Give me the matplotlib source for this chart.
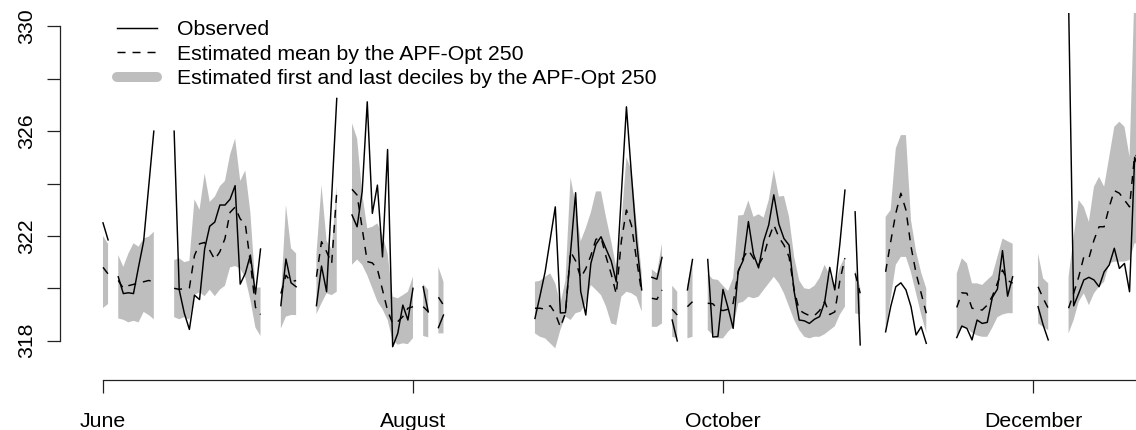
import numpy as np
import matplotlib
matplotlib.use("Agg")
import matplotlib.pyplot as plt
from matplotlib.lines import Line2D

NA = np.nan

# Daily series starting on 1 June; NA marks days without data.
obs = (
    [322.5, 321.85] + [NA] +
    [320.44, 319.8, 319.83, 319.8, 320.82, 321.8, 323.9, 326.0] + [NA] * 3 +
    [326.0, 319.94, 319.05, 318.43, 319.74, 319.57, 321.5, 322.37, 322.53,
     323.18, 323.18, 323.4, 323.92, 320.16, 320.57, 321.27, 319.78, 321.5] + [NA] * 3 +
    [319.34, 321.12, 320.21, 320.06] + [NA] * 3 +
    [319.34, 320.85, 319.87, 323.5, 327.25] + [NA] * 2 +
    [322.8, 322.35, 323.69, 327.12, 322.86, 323.94, 321.2, 325.3, 317.77,
     318.28, 319.36, 318.79, 320.0] + [NA] +
    [320.06, 319.1] + [NA] +
    [318.5, 318.98] + [NA] * 17 +
    [318.85, 319.72, 320.63, 321.88, 323.11, 319.06, 319.07, 321.37, 323.65,
     319.88, 318.98, 320.95, 321.68, 321.97, 321.5, 321.05, 320.25, 323.6,
     326.93, 324.3, 321.8, 319.94] + [NA] +
    [320.42, 320.35, 321.18] + [NA] +
    [318.79, 317.99] + [NA] +
    [319.94, 321.1] + [NA] * 2 +
    [321.1, 318.14, 318.16, 319.96, 319.25, 318.47, 320.66, 321.08, 322.55,
     321.3, 320.78, 321.8, 322.42, 323.57, 322.45, 321.9, 321.65, 319.88,
     318.79, 318.76, 318.66, 318.82, 318.92, 319.47, 320.8, 319.94, 321.7,
     323.75] + [NA] +
    [322.92, 317.84] + [NA] * 4 +
    [318.34, 319.3, 320.06, 320.21, 319.94, 319.3, 318.22, 318.53, 317.9] + [NA] * 5 +
    [318.12, 318.56, 318.47, 318.03, 318.79, 318.66, 318.7, 319.65, 319.97,
     321.44, 319.7, 320.44] + [NA] * 4 +
    [319.3, 318.6, 318.03] + [NA] * 3 +
    [331.0, 319.33, 319.81, 320.32, 320.42, 320.32, 320.06, 320.63, 320.89,
     321.53, 320.76, 320.95, 319.87, 325.0, 324.5]
)

est_mean = (
    [320.8, 320.55] + [NA] +
    [320.3, 320.0, 320.1, 320.15, 320.2, 320.25, 320.3, 320.25] + [NA] * 3 +
    [320.0, 319.96, 319.99, 320.02, 321.25, 321.7, 321.75, 321.45, 321.1,
     321.4, 321.9, 322.9, 323.1, 322.65, 322.45, 321.0, 319.28, 319.0] + [NA] * 3 +
    [319.8, 320.5, 320.25, 320.3] + [NA] * 3 +
    [320.44, 321.78, 321.4, 320.95, 323.69] + [NA] * 2 +
    [323.78, 323.56, 322.3, 321.02, 320.97, 320.73, 319.94, 319.15, 318.66,
     318.73, 318.92, 319.24, 319.3] + [NA] +
    [319.3, 319.11] + [NA] +
    [319.66, 319.36] + [NA] * 17 +
    [319.24, 319.24, 319.2, 319.34, 319.04, 318.52, 319.05, 321.4, 321.05,
     320.4, 320.75, 321.25, 321.87, 321.94, 321.2, 320.55, 319.78, 321.8,
     322.99, 322.4, 321.08, 319.84] + [NA] +
    [319.62, 319.58, 319.94] + [NA] +
    [319.2, 318.98] + [NA] +
    [319.3, 319.49] + [NA] * 2 +
    [319.43, 319.41, 319.2, 319.15, 319.2, 319.43, 320.63, 321.18, 321.46,
     321.15, 320.89, 321.23, 321.91, 322.42, 321.95, 321.65, 321.2, 319.94,
     319.17, 319.05, 318.96, 318.96, 319.15, 319.5, 319.0, 319.1, 320.3,
     321.15] + [NA] +
    [320.57, 319.81] + [NA] * 4 +
    [320.63, 321.78, 322.86, 323.63, 322.99, 321.59, 320.57, 319.81, 319.05] + [NA] * 5 +
    [319.27, 319.83, 319.81, 319.24, 319.2, 319.17, 319.36, 319.7, 320.2,
     320.7, 320.3, 320.2] + [NA] * 4 +
    [320.06, 319.62, 319.24] + [NA] * 3 +
    [319.24, 319.81, 320.44, 321.2, 321.15, 321.84, 322.35, 322.35, 323.11,
     323.73, 323.63, 323.37, 323.11, 325.09, 325.0]
)

decile_low = (
    [319.25, 319.4] + [NA] +
    [318.85, 318.8, 318.7, 318.76, 318.7, 319.1, 318.98, 318.82] + [NA] * 3 +
    [318.9, 318.82, 318.9, 318.8, 319.75, 319.85, 319.7, 319.95, 319.7,
     319.95, 320.1, 320.8, 320.85, 320.75, 320.4, 319.55, 318.5, 318.18] + [NA] * 3 +
    [318.47, 318.92, 318.98, 318.98] + [NA] * 3 +
    [319.02, 319.43, 319.81, 319.74, 319.87] + [NA] * 2 +
    [320.9, 321.1, 320.9, 320.5, 320.0, 319.5, 319.2, 318.8, 318.0,
     317.85, 317.9, 317.87, 318.1] + [NA] +
    [318.18, 318.13] + [NA] +
    [318.28, 318.28] + [NA] * 17 +
    [318.28, 318.15, 318.09, 317.9, 317.71, 318.41, 318.92, 318.79, 319.05,
     319.11, 319.43, 320.13, 319.94, 319.74, 319.3, 318.66, 318.6, 319.68,
     319.87, 319.81, 319.68, 319.11] + [NA] +
    [318.53, 318.53, 318.66] + [NA] +
    [318.15, 318.09] + [NA] +
    [318.09, 318.15] + [NA] * 2 +
    [318.41, 318.22, 318.09, 318.09, 318.34, 318.53, 319.43, 319.49, 319.68,
     319.62, 319.68, 319.94, 320.19, 320.44, 320.19, 319.81, 319.3, 318.79,
     318.41, 318.15, 318.09, 318.15, 318.15, 318.25, 318.4, 318.55, 319.0,
     319.3] + [NA] +
    [319.05, 319.0] + [NA] * 4 +
    [318.35, 319.6, 320.9, 321.2, 321.2, 320.6, 319.8, 319.0, 318.3] + [NA] * 5 +
    [318.2, 318.5, 318.5, 318.3, 318.2, 318.15, 318.15, 318.5, 318.9,
     319.0, 319.05, 319.05] + [NA] * 4 +
    [318.66, 318.53, 318.4] + [NA] * 3 +
    [318.28, 318.79, 319.49, 319.81, 319.36, 319.81, 320.06, 320.25, 320.95,
     321.02, 321.02, 321.02, 321.08, 321.72, 321.7]
)

decile_high = (
    [322.0, 321.7] + [NA] +
    [321.27, 320.82, 321.33, 321.72, 321.59, 321.91, 321.97, 322.16] + [NA] * 3 +
    [321.08, 321.15, 321.0, 321.05, 323.4, 323.0, 324.39, 323.3, 323.5,
     323.9, 324.1, 325.1, 325.72, 324.1, 324.5, 322.9, 320.03, 320.03] + [NA] * 3 +
    [319.6, 323.18, 321.53, 321.33] + [NA] * 3 +
    [321.3, 323.94, 321.8, 321.5, 323.9] + [NA] * 2 +
    [326.3, 325.72, 323.63, 322.29, 322.35, 322.48, 322.03, 321.33, 319.68,
     319.62, 319.74, 319.87, 320.44] + [NA] +
    [320.16, 319.94] + [NA] +
    [320.82, 320.25] + [NA] * 17 +
    [320.25, 320.29, 320.44, 320.57, 320.19, 319.4, 320.3, 324.24, 323.2,
     321.8, 322.3, 322.9, 323.7, 323.7, 322.7, 321.8, 320.8, 322.5,
     325.0, 324.5, 322.5, 320.6] + [NA] +
    [320.72, 320.57, 321.72] + [NA] +
    [320.1, 319.87] + [NA] +
    [320.13, 321.08] + [NA] * 2 +
    [320.55, 320.35, 320.32, 320.1, 319.9, 320.4, 322.78, 322.8, 323.35,
     322.73, 322.83, 322.7, 323.37, 324.52, 323.5, 323.53, 322.73, 321.2,
     320.3, 320.0, 319.97, 320.1, 320.4, 320.9, 320.5, 320.1, 320.8,
     321.2] + [NA] +
    [320.7, 320.05] + [NA] * 4 +
    [322.73, 322.99, 325.34, 325.85, 325.85, 322.6, 321.4, 320.6, 320.0] + [NA] * 5 +
    [320.57, 321.15, 320.95, 320.19, 320.19, 320.13, 320.32, 320.5, 321.2,
     321.9, 321.8, 321.7] + [NA] * 4 +
    [321.33, 320.38, 320.19] + [NA] * 3 +
    [320.44, 321.97, 323.37, 323.11, 322.54, 323.88, 324.26, 323.88, 325.02,
     326.17, 326.36, 326.17, 325.02, 331.5, 331.0]
)

# Day offsets (from 1 June) of the first day of each labelled month
month_ticks = [0, 61, 122, 183]
month_labels = ["June", "August", "October", "December"]
y_ticks = [318, 320, 322, 324, 326, 328, 330]
y_labels = ["318", "", "322", "", "326", "", "330"]

legend_labels = [
    "Observed",
    "Estimated mean by the APF-Opt 250",
    "Estimated first and last deciles by the APF-Opt 250",
]

BAND = "#BEBEBE"
FS = 15.3

plt.rcParams["font.family"] = ["Liberation Sans", "DejaVu Sans"]

W, H = 1136, 430
fig = plt.figure(figsize=(W / 100, H / 100), dpi=100)
ax = fig.add_axes([60 / W, 1 - 380 / H, (W - 60) / W, (380 - 13.3) / H])

days = np.arange(len(obs))
ax.fill_between(days, decile_low, decile_high, color=BAND, lw=0)
ax.plot(days, obs, color="black", lw=1.05)
ax.plot(days, est_mean, color="black", lw=1.05, ls=(0, (5.5, 4.8)))

ax.set_xlim(-8.46, 203.27)
ax.set_ylim(316.5, 330.5)

for side in ("top", "right"):
    ax.spines[side].set_visible(False)
ax.spines["left"].set_bounds(318, 330)
ax.spines["bottom"].set_bounds(0, 203.27)
for side in ("left", "bottom"):
    ax.spines[side].set_linewidth(0.9)
    ax.spines[side].set_color("#222222")

ax.set_xticks(month_ticks)
ax.set_xticklabels(month_labels, fontsize=FS)
ax.set_yticks(y_ticks)
ax.set_yticklabels(y_labels, fontsize=FS, rotation=90, va="center")
ax.tick_params(axis="both", length=9.4, width=0.9, color="#222222")
ax.tick_params(axis="x", pad=13.3)
ax.tick_params(axis="y", pad=7.5)

handles = [
    Line2D([], [], color="black", lw=1.05),
    Line2D([], [], color="black", lw=1.05, ls=(0, (5.5, 4.8))),
    Line2D([], [], color=BAND, lw=7.2, solid_capstyle="round"),
]
ax.legend(handles, legend_labels, loc="upper left",
          bbox_to_anchor=(117 / W, 1 - 20 / H), bbox_transform=fig.transFigure,
          frameon=False, fontsize=FS, handlelength=1.88, handletextpad=0.94,
          labelspacing=0.27, borderpad=0, borderaxespad=0)

fig.savefig("out.png", dpi=100)
